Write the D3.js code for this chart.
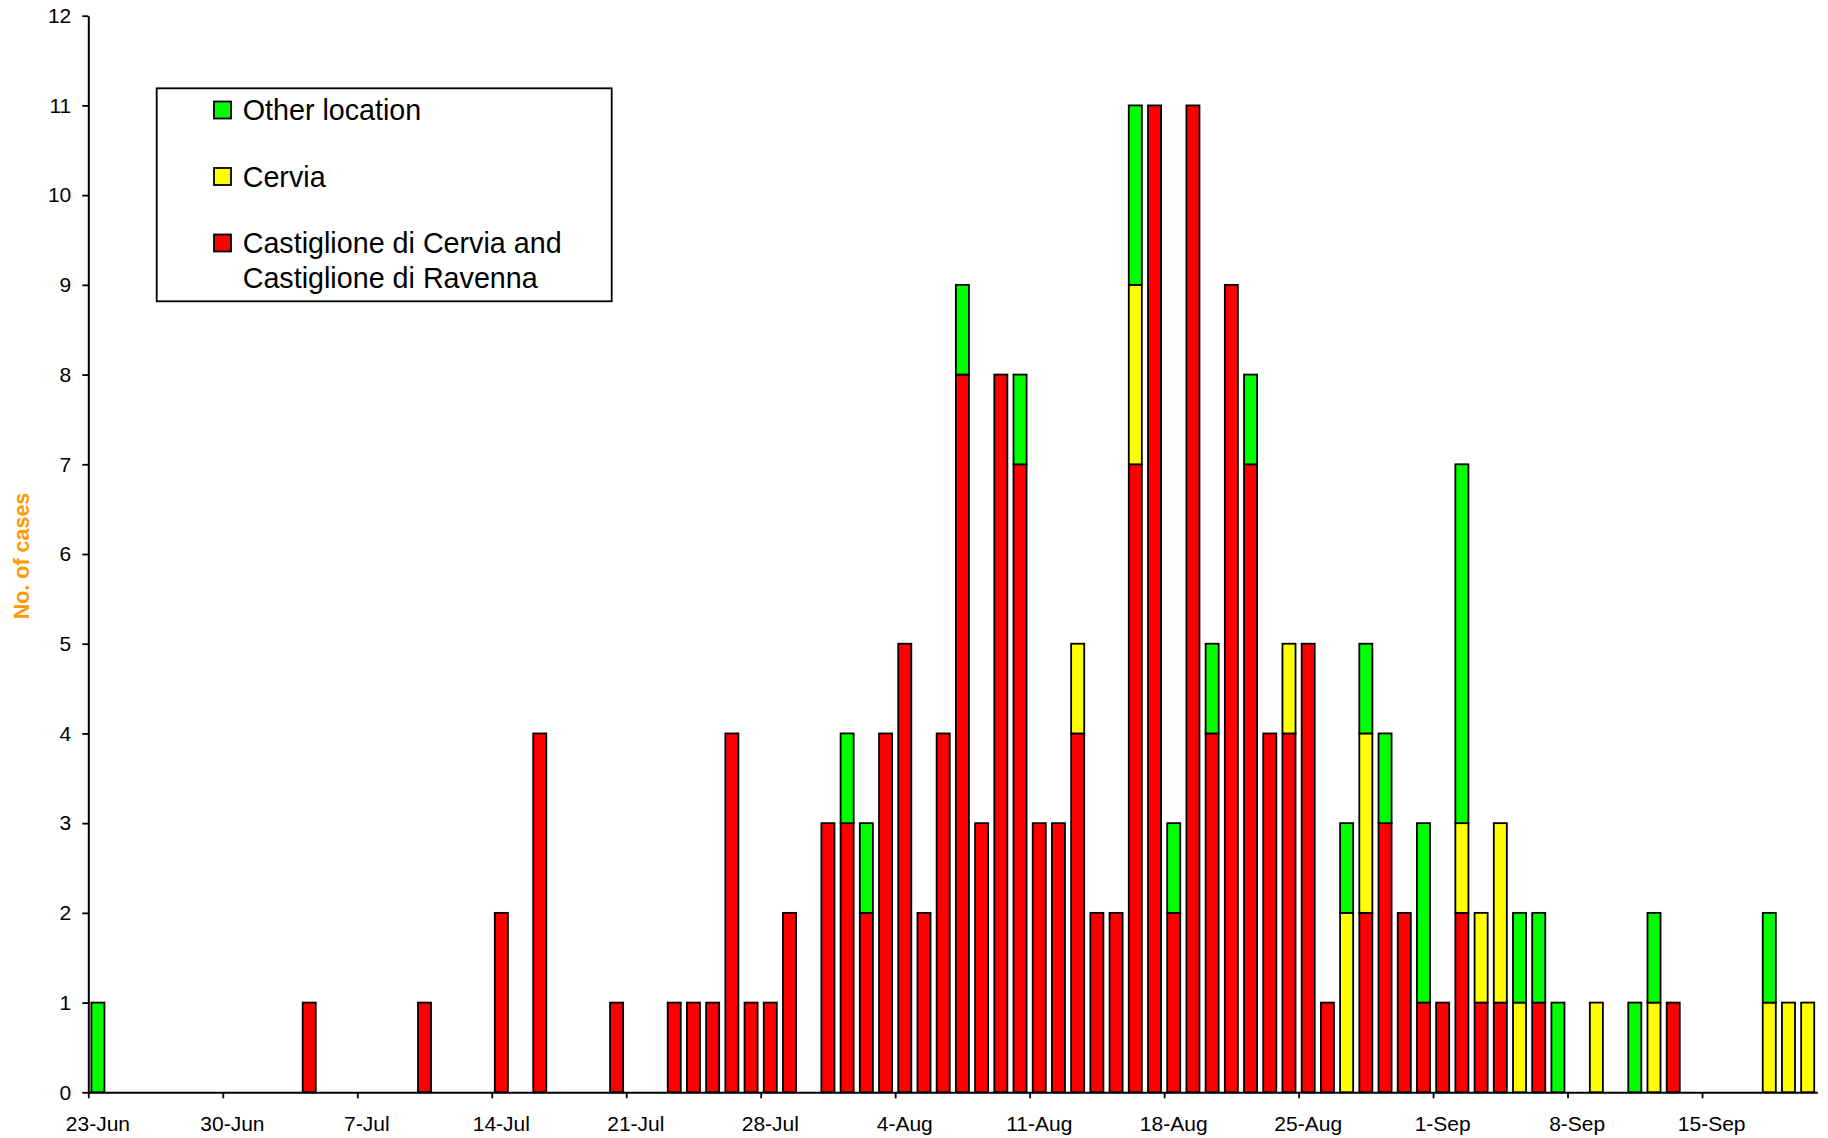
<!DOCTYPE html>
<html>
<head>
<meta charset="utf-8">
<title>Cases by date of onset and place of residence</title>
<script src="https://cdn.jsdelivr.net/npm/d3@7/dist/d3.min.js"></script>
<style>
  html, body { margin: 0; padding: 0; background: #fff; }
  svg { display: block; }
  text { font-family: "Liberation Sans", Arial, Helvetica, sans-serif; }
</style>
</head>
<body>
<svg id="chart" width="1828" height="1138"></svg>
<script>
// Daily cases, 23 June to 20 September (one value per day)
const startDay = new Date(2007, 5, 23);
const endDay = new Date(2007, 8, 21);
const days = d3.timeDay.range(startDay, endDay);

// Castiglione di Cervia and Castiglione di Ravenna
const castiglione = [
  0,0,0,0,0,0,0,0,0,0,0,1,0,0,0,0,0,1,0,0,
  0,2,0,4,0,0,0,1,0,0,1,1,1,4,1,1,2,0,3,3,
  2,4,5,2,4,8,3,8,7,3,3,4,2,2,7,11,2,11,4,9,
  7,4,4,5,1,0,2,3,2,1,1,2,1,1,0,1,0,0,0,0,
  0,0,1,0,0,0,0,0,0,0
];
// Cervia
const cervia = [
  0,0,0,0,0,0,0,0,0,0,0,0,0,0,0,0,0,0,0,0,
  0,0,0,0,0,0,0,0,0,0,0,0,0,0,0,0,0,0,0,0,
  0,0,0,0,0,0,0,0,0,0,0,1,0,0,2,0,0,0,0,0,
  0,0,1,0,0,2,2,0,0,0,0,1,1,2,1,0,0,0,1,0,
  0,1,0,0,0,0,0,1,1,1
];
// Other location
const otherLocation = [
  1,0,0,0,0,0,0,0,0,0,0,0,0,0,0,0,0,0,0,0,
  0,0,0,0,0,0,0,0,0,0,0,0,0,0,0,0,0,0,0,1,
  1,0,0,0,0,1,0,0,1,0,0,0,0,0,2,0,1,0,1,0,
  1,0,0,0,0,1,1,1,0,2,0,4,0,0,1,1,1,0,0,0,
  1,1,0,0,0,0,0,1,0,0
];

const seriesKeys = ["castiglione", "cervia", "other"];
const seriesColors = { castiglione: "#FF0000", cervia: "#FFFF00", other: "#00FF00" };
const weekLabels = ["23-Jun", "30-Jun", "7-Jul", "14-Jul", "21-Jul", "28-Jul", "4-Aug",
                    "11-Aug", "18-Aug", "25-Aug", "1-Sep", "8-Sep", "15-Sep"];
const yTicks = [0, 1, 2, 3, 4, 5, 6, 7, 8, 9, 10, 11, 12];
const legendItems = [
  { key: "other", lines: ["Other location"] },
  { key: "cervia", lines: ["Cervia"] },
  { key: "castiglione", lines: ["Castiglione di Cervia and", "Castiglione di Ravenna"] }
];

const fmt = d3.timeFormat("%-d-%b");
const table = days.map((d, i) => ({
  day: fmt(d),
  castiglione: castiglione[i],
  cervia: cervia[i],
  other: otherLocation[i]
}));

// Plot frame
const plot = { left: 88.3, right: 1817.3, top: 15.7, bottom: 1092.3 };
const svg = d3.select("#chart");

const x = d3.scaleBand()
  .domain(table.map(d => d.day))
  .range([plot.left, plot.right])
  .paddingInner(0.32)
  .paddingOuter(0.16);

// Continuous day scale for the week boundary tick marks
const xEdge = d3.scaleLinear()
  .domain([0, days.length])
  .range([plot.left, plot.right]);

const y = d3.scaleLinear()
  .domain([0, 12])
  .range([plot.bottom, plot.top]);

// Stacked bars
const stacked = d3.stack().keys(seriesKeys)(table);
svg.append("g")
  .selectAll("g")
  .data(stacked)
  .join("g")
    .attr("fill", s => seriesColors[s.key])
  .selectAll("rect")
  .data(s => s.filter(p => p[1] > p[0]))
  .join("rect")
    .attr("x", p => x(p.data.day))
    .attr("width", x.bandwidth())
    .attr("y", p => y(p[1]))
    .attr("height", p => y(p[0]) - y(p[1]))
    .attr("stroke", "#000")
    .attr("stroke-width", 1.8);

// Y axis
const yAxis = svg.append("g")
  .attr("transform", `translate(${plot.left},0)`)
  .call(d3.axisLeft(y).tickValues(yTicks).tickFormat(d3.format("d")).tickSize(6).tickPadding(11).tickSizeOuter(0));
yAxis.select(".domain").attr("stroke", "#000").attr("stroke-width", 2);
yAxis.selectAll(".tick line").attr("stroke", "#000").attr("stroke-width", 1.8);
yAxis.selectAll(".tick text")
  .attr("font-size", 21)
  .attr("fill", "#000")
  .attr("font-family", "Liberation Sans, Arial, sans-serif");

// X axis: tick marks at the start of each week
const weekIdx = weekLabels.map(l => table.findIndex(d => d.day === l));
const xTickAxis = svg.append("g")
  .attr("transform", `translate(0,${plot.bottom})`)
  .call(d3.axisBottom(xEdge).tickValues(weekIdx).tickFormat("").tickSize(6).tickSizeOuter(0));
xTickAxis.select(".domain").attr("stroke", "#000").attr("stroke-width", 2);
xTickAxis.selectAll(".tick line").attr("stroke", "#000").attr("stroke-width", 1.8);

// X axis: week labels centred under their day
const xLabelAxis = svg.append("g")
  .attr("transform", `translate(0,${plot.bottom})`)
  .call(d3.axisBottom(x).tickValues(weekLabels).tickSize(0).tickSizeOuter(0));
xLabelAxis.select(".domain").remove();
xLabelAxis.selectAll(".tick text")
  .attr("y", 38.7)
  .attr("dy", 0)
  .attr("font-size", 21)
  .attr("fill", "#000")
  .attr("font-family", "Liberation Sans, Arial, sans-serif");

// Y axis title
svg.append("text")
  .attr("transform", "translate(28.5,556) rotate(-90)")
  .attr("text-anchor", "middle")
  .attr("font-size", 21.5)
  .attr("font-weight", "bold")
  .attr("fill", "#FF9900")
  .text("No. of cases");

// Legend
const legend = svg.append("g");
legend.append("rect")
  .attr("x", 156.7).attr("y", 88.3)
  .attr("width", 455).attr("height", 213)
  .attr("fill", "#fff")
  .attr("stroke", "#000")
  .attr("stroke-width", 1.8);

const entry = legend.selectAll("g.entry")
  .data(legendItems)
  .join("g")
    .attr("class", "entry")
    .attr("transform", (d, i) => `translate(0,${i * 66.5})`);
entry.append("rect")
  .attr("x", 214).attr("y", 101.5)
  .attr("width", 17).attr("height", 17)
  .attr("fill", d => seriesColors[d.key])
  .attr("stroke", "#000")
  .attr("stroke-width", 1.8);
entry.append("text")
  .attr("x", 242.7)
  .attr("y", 120)
  .attr("font-size", 28.7)
  .attr("fill", "#000")
  .selectAll("tspan")
  .data(d => d.lines)
  .join("tspan")
    .attr("x", 242.7)
    .attr("dy", (l, j) => j === 0 ? 0 : 35)
    .text(l => l);
</script>
</body>
</html>
